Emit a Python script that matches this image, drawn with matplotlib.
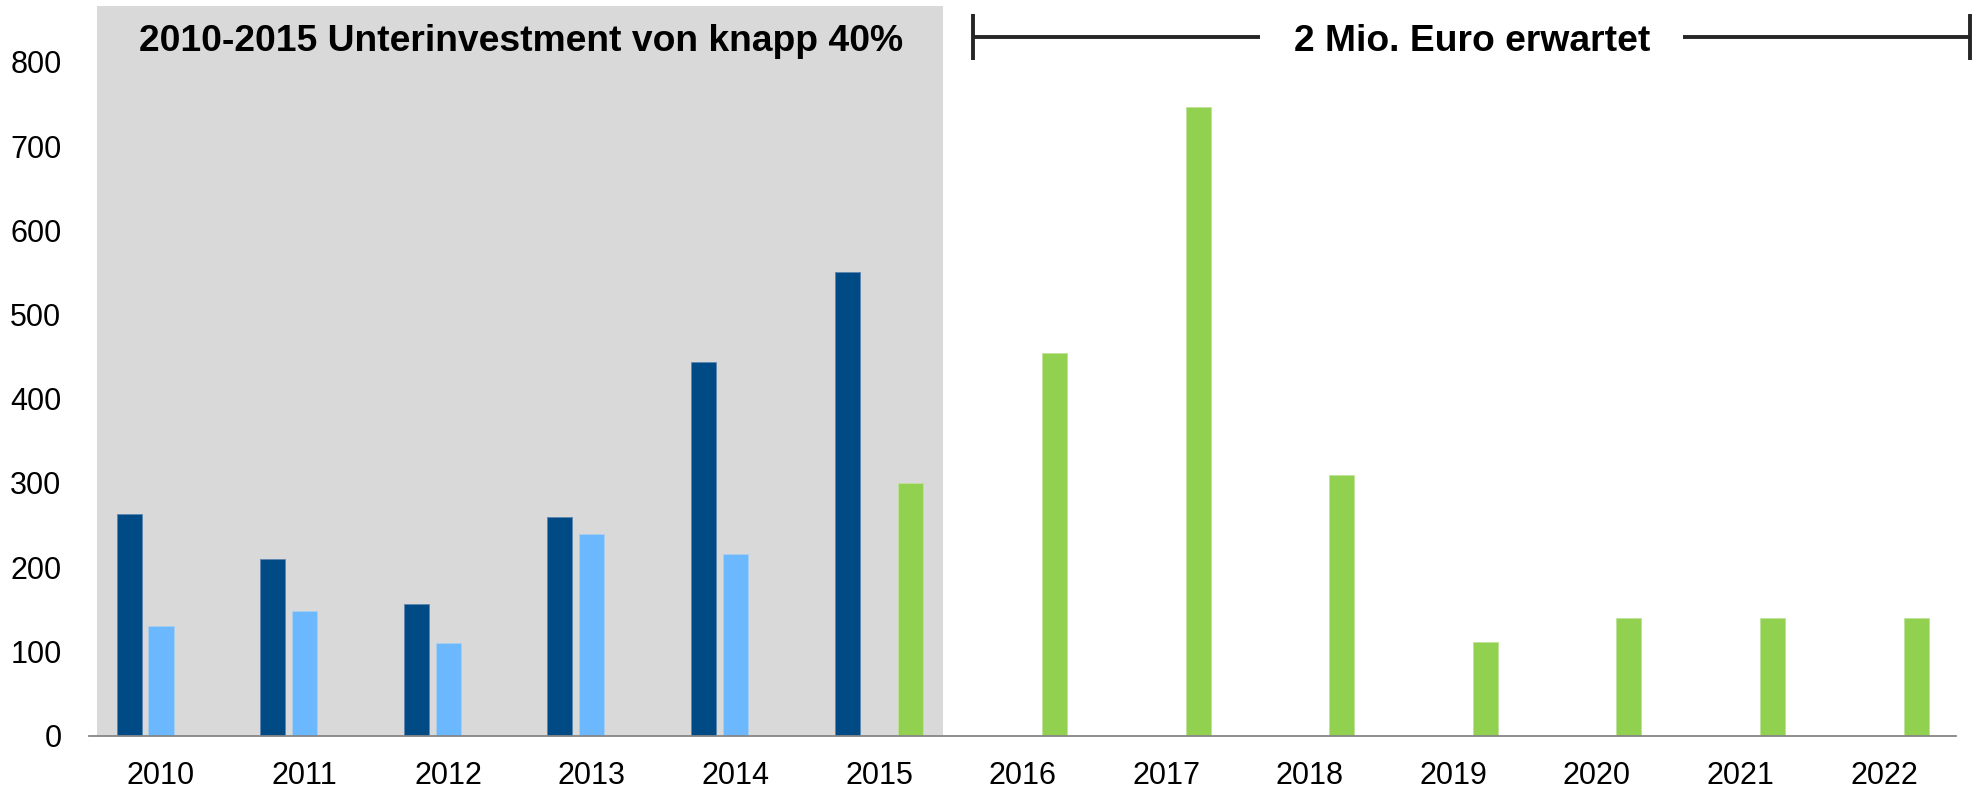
import matplotlib
matplotlib.use("Agg")
import matplotlib.pyplot as plt
import numpy as np

plt.rcParams['font.family'] = ['Liberation Sans', 'DejaVu Sans']

years = ["2010", "2011", "2012", "2013", "2014", "2015", "2016",
         "2017", "2018", "2019", "2020", "2021", "2022"]
dark_blue = [263, 210, 156, 259, 444, 551, np.nan, np.nan, np.nan, np.nan, np.nan, np.nan, np.nan]
light_blue = [130, 148, 110, 239, 216, np.nan, np.nan, np.nan, np.nan, np.nan, np.nan, np.nan, np.nan]
green = [np.nan, np.nan, np.nan, np.nan, np.nan, 300, 454, 746, 309, 111, 139, 139, 139]
yticks = [0, 100, 200, 300, 400, 500, 600, 700, 800]
title_left = "2010-2015 Unterinvestment von knapp 40%"
title_right = "2 Mio. Euro erwartet"

W, H = 1983, 789
fig = plt.figure(figsize=(W / 100, H / 100), dpi=100)
ax = fig.add_axes([89.2 / W, (H - 735.5) / H, (1956 - 89.2) / W, 735.5 / H])

x = np.arange(len(years))
bw = 0.175
off = 0.222
ymax = 735.5 / 0.842
ax.set_xlim(-0.5, len(years) - 0.5)
ax.set_ylim(0, ymax)

# grey shaded background 2010-2015
ax.axvspan(-0.446, 5.446, ymin=0, ymax=866 / ymax, color="#D9D9D9", zorder=0, lw=0)

ax.bar(x - off, dark_blue, width=bw, color="#004A86", edgecolor="#5E86AE", linewidth=0.6, zorder=2)
ax.bar(x, light_blue, width=bw, color="#6BB8FF", edgecolor="#A9CFF0", linewidth=0.6, zorder=2)
ax.bar(x + off, green, width=bw, color="#92D050", edgecolor="#BEE39A", linewidth=0.6, zorder=2)

for s in ["top", "right", "left"]:
    ax.spines[s].set_visible(False)
ax.spines["bottom"].set_color("#868686")
ax.spines["bottom"].set_linewidth(1.3)
ax.spines["bottom"].set_zorder(3)

ax.set_xticks(x)
ax.set_xticklabels(years)
ax.set_yticks(yticks)
ax.set_yticklabels([str(v) for v in yticks])
ax.tick_params(axis="both", length=0, labelsize=22, colors="black")
ax.tick_params(axis="x", pad=18)
ax.tick_params(axis="y", pad=20)

# Left title
y_text = 813.5
ax.text(2.507, y_text, title_left, ha="center", va="baseline", fontsize=26.8,
        fontweight="bold", color="black", zorder=4)

# Right bracket with text
yb = 830
lc = "#262626"
lw = 2.8
ax.plot([5.655, 7.65], [yb, yb], color=lc, lw=lw, clip_on=False, solid_capstyle="butt")
ax.plot([10.6, 12.6], [yb, yb], color=lc, lw=lw, clip_on=False, solid_capstyle="butt")
ax.plot([5.655, 5.655], [802, 857], color=lc, lw=lw, clip_on=False, solid_capstyle="butt")
ax.plot([12.6, 12.6], [802, 857], color=lc, lw=lw, clip_on=False, solid_capstyle="butt")
ax.text(9.13, y_text, title_right, ha="center", va="baseline", fontsize=26.8,
        fontweight="bold", color="black", clip_on=False)

fig.savefig("out.png", dpi=100)
